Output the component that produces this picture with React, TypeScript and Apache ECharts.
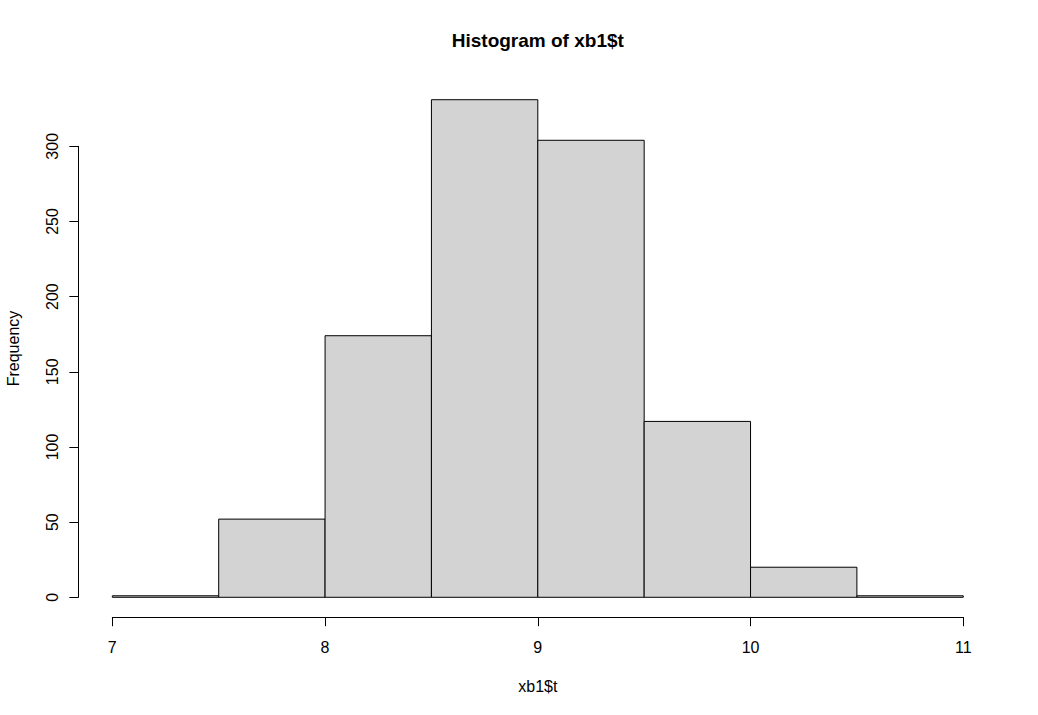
import React, { useEffect, useRef } from "react";
import * as echarts from "echarts";

const binStarts = [7, 7.5, 8, 8.5, 9, 9.5, 10, 10.5];
const binEnds = [7.5, 8, 8.5, 9, 9.5, 10, 10.5, 11];
const counts = [1, 52, 174, 331, 304, 117, 20, 1];
const xTickMin = 7;
const xTickMax = 11;
const yTickMin = 0;
const yTickMax = 300;
const yTickStep = 50;
const chartTitle = "Histogram of xb1$t";
const xLabel = "xb1$t";
const yLabel = "Frequency";

export default function App() {
  const ref = useRef<HTMLDivElement>(null);
  useEffect(() => {
    if (!ref.current) return;
    const chart = echarts.init(ref.current, null, { renderer: "svg" });
    const xPad = (xTickMax - xTickMin) * 0.04;
    const yMaxData = Math.max(...counts);
    const yPad = yMaxData * 0.04;
    const font = "Liberation Sans, Arial, sans-serif";
    const data = binStarts.map((s, i) => [s, binEnds[i], counts[i]]);
    const plot = { left: 78.3, right: 40.7, top: 79.8, bottom: 97.8 };
    chart.setOption({
      animation: false,
      backgroundColor: "#ffffff",
      grid: [
        plot,
        { left: 112.3, right: 74.7, top: 79.8, bottom: 97.8 },
        { left: 78.3, right: 40.7, top: 146.3, bottom: 117.7 },
      ],
      xAxis: [
        { type: "value", gridIndex: 0, min: xTickMin - xPad, max: xTickMax + xPad, show: false },
        {
          type: "value",
          gridIndex: 1,
          min: xTickMin,
          max: xTickMax,
          interval: 1,
          position: "bottom",
          axisLine: { show: true, lineStyle: { color: "#000", width: 1 } },
          axisTick: { show: true, inside: false, length: 9, lineStyle: { color: "#000" } },
          axisLabel: { fontFamily: font, fontSize: 16, color: "#000", margin: 22 },
          splitLine: { show: false },
          name: xLabel,
          nameLocation: "middle",
          nameGap: 61,
          nameTextStyle: { fontFamily: font, fontSize: 16, color: "#000" },
        },
        { type: "value", gridIndex: 2, show: false },
      ],
      yAxis: [
        { type: "value", gridIndex: 0, min: -yPad, max: yMaxData + yPad, show: false },
        { type: "value", gridIndex: 1, show: false },
        {
          type: "value",
          gridIndex: 2,
          min: yTickMin,
          max: yTickMax,
          interval: yTickStep,
          position: "left",
          axisLine: { show: true, lineStyle: { color: "#000", width: 1 } },
          axisTick: { show: true, inside: false, length: 9, lineStyle: { color: "#000" } },
          axisLabel: { fontFamily: font, fontSize: 16, color: "#000", margin: 18, rotate: 90 },
          splitLine: { show: false },
        },
      ],
      graphic: [
        {
          type: "text",
          x: 537.8,
          y: 40,
          style: {
            text: chartTitle,
            fontFamily: font,
            fontSize: 19,
            fontWeight: "bold",
            fill: "#000",
            align: "center",
            verticalAlign: "middle",
          },
        },
        {
          type: "text",
          x: 13,
          y: 348.5,
          rotation: Math.PI / 2,
          style: {
            text: yLabel,
            fontFamily: font,
            fontSize: 16,
            fill: "#000",
            align: "center",
            verticalAlign: "middle",
          },
        },
      ],
      series: [
        {
          type: "custom",
          xAxisIndex: 0,
          yAxisIndex: 0,
          data,
          renderItem: (params: any, api: any) => {
            const p0 = api.coord([api.value(0), api.value(2)]);
            const p1 = api.coord([api.value(1), 0]);
            return {
              type: "rect",
              shape: { x: p0[0], y: p0[1], width: p1[0] - p0[0], height: p1[1] - p0[1] },
              style: { fill: "#d3d3d3", stroke: "#000", lineWidth: 1 },
            };
          },
        },
      ],
    });
    return () => chart.dispose();
  }, []);
  return (
    <div
      ref={ref}
      style={{ position: "fixed", left: 0, top: 0, width: 1038, height: 715, background: "#fff" }}
    />
  );
}
